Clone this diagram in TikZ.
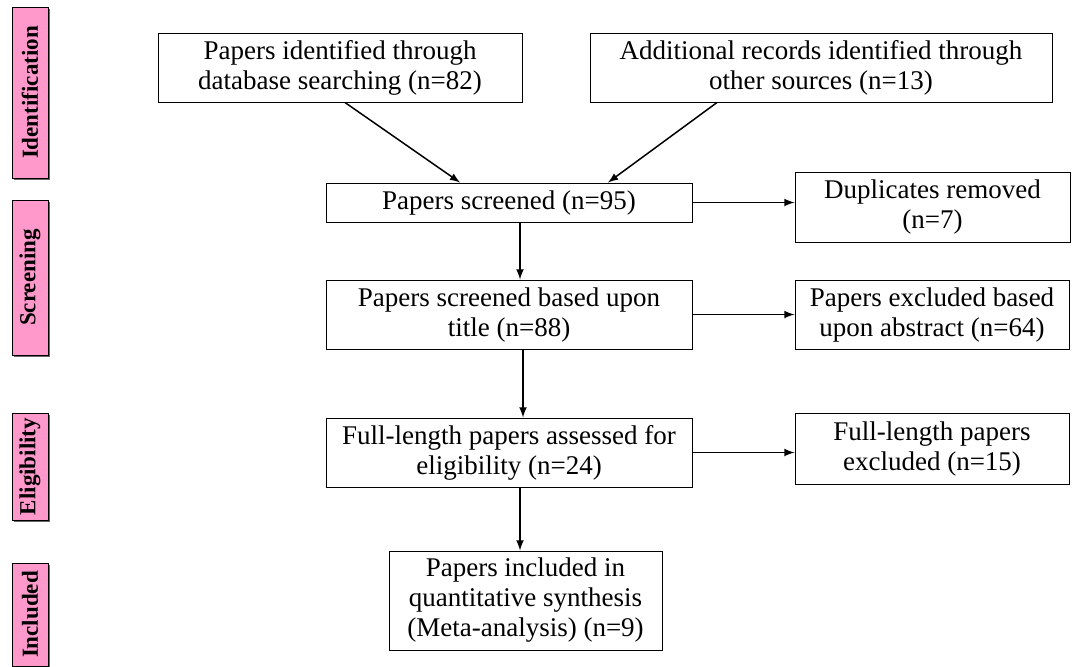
\documentclass[tikz,border=0pt]{standalone}
\usepackage{fontspec}
\setmainfont{Liberation Serif}
\usetikzlibrary{shadows}
\definecolor{stagepink}{RGB}{255,153,204}
\begin{document}
\begin{tikzpicture}[x=0.5pt,y=-0.5pt,
    box/.style={draw, line width=0.5pt, align=center, inner sep=0pt, font=\fontsize{13.5}{15}\selectfont},
    link/.style={-latex, line width=0.75pt},
    stage/.style={draw, line width=0.5pt, fill=stagepink, inner sep=0pt, minimum width=18pt,
      font=\bfseries\fontsize{11.5}{13}\selectfont,
      drop shadow={shadow xshift=1.2pt, shadow yshift=-1.2pt, opacity=1, fill=black!60}}]
  \useasboundingbox (0,0) rectangle (1075,666);
  % stages on the left
  \foreach \name/\y/\len/\txt in {sIdent/92.5/85.5pt/Identification, sScreen/277.5/77.5pt/Screening, sElig/466.5/53.5pt/Eligibility, sIncl/614.5/51.5pt/Included}
  {
    \node[stage, minimum height=\len] (\name) at (30,\y) {\rotatebox{90}{\txt}};
  }
  % boxes
  \node[box, minimum width=182pt, minimum height=34.5pt] (database) at (340,67.5) {Papers identified through\\database searching (n=82)};
  \node[box, minimum width=231pt, minimum height=34.5pt] (other) at (821,67.5) {Additional records identified through\\other sources (n=13)};
  \node[box, minimum width=183pt, minimum height=19.5pt] (screened) at (509,202.5) {Papers screened (n=95)};
  \node[box, minimum width=137.5pt, minimum height=35pt] (duplicates) at (932.5,207) {Duplicates removed\\(n=7)};
  \node[box, minimum width=183pt, minimum height=34.5pt] (title) at (509,314.5) {Papers screened based upon\\title (n=88)};
  \node[box, minimum width=137pt, minimum height=34.5pt] (abstract) at (932,314.5) {Papers excluded based\\upon abstract (n=64)};
  \node[box, minimum width=183pt, minimum height=34.5pt] (fulltext) at (509,452.5) {Full-length papers assessed for\\eligibility (n=24)};
  \node[box, minimum width=137pt, minimum height=35.5pt] (excluded) at (932,448.5) {Full-length papers\\excluded (n=15)};
  \node[box, minimum width=136.5pt, minimum height=49.5pt] (included) at (525.5,600.5) {Papers included in\\quantitative synthesis\\(Meta-analysis) (n=9)};
  % arrows
  \draw[link] ([xshift=2.5pt]database.south) -- ([xshift=-24.5pt]screened.north);
  \draw[link] ([xshift=-52pt]other.south) -- ([xshift=49.5pt]screened.north);
  \draw[link] (screened.east) -- (screened.east -| duplicates.west);
  \draw[link] ([xshift=5.5pt]screened.south) -- ([xshift=5.5pt]title.north);
  \draw[link] (title.east) -- (title.east -| abstract.west);
  \draw[link] ([xshift=7pt]title.south) -- ([xshift=7pt]fulltext.north);
  \draw[link] (fulltext.east) -- (fulltext.east -| excluded.west);
  \draw[link] ([xshift=5.5pt]fulltext.south) -- ([xshift=-2.75pt]included.north);
\end{tikzpicture}
\end{document}
